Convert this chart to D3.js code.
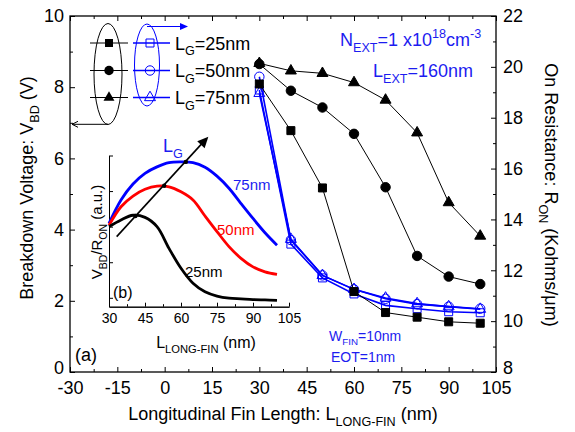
<!DOCTYPE html>
<meta charset="utf-8">
<style>
body { margin: 0; background: #fff; }
svg { display: block; font-family: Arial, "Liberation Sans", sans-serif; }
.tk text { font-size: 18px; fill: #000; }
.tk line { stroke: #000; stroke-width: 1; }
.itk text { font-size: 14px; fill: #000; }
.itk line { stroke: #000; stroke-width: 1; }
</style>
<script src="https://d3js.org/d3.v7.min.js"></script>
<body>
<script>
// main chart data
var lengths = [30, 40, 50, 60, 70, 80, 90, 100];
var vbd25 = [8.09, 6.78, 5.17, 2.26, 1.67, 1.54, 1.41, 1.37];
var vbd50 = [8.65, 7.90, 7.43, 6.69, 5.19, 3.26, 2.68, 2.47];
var vbd75 = [8.67, 8.46, 8.39, 8.13, 7.64, 6.72, 4.76, 3.82];
var ron25 = [19.09, 13.03, 11.70, 11.07, 10.62, 10.49, 10.37, 10.33];
var ron50 = [19.61, 13.19, 11.80, 11.25, 10.88, 10.67, 10.57, 10.49];
var ron75 = [18.96, 13.22, 11.80, 11.25, 10.91, 10.69, 10.57, 10.47];

// inset (b) curves, arbitrary units
var insetX = [30, 35, 40, 45, 50, 55, 60, 65, 70, 75, 80, 85, 90, 95, 100];
var inset25 = [2.00, 2.19, 2.32, 2.26, 2.00, 1.39, 0.83, 0.41, 0.17, 0.05, -0.01, -0.03, -0.05, -0.06, -0.07];
var inset50 = [2.04, 2.56, 2.86, 3.05, 3.14, 3.12, 2.98, 2.75, 2.30, 1.86, 1.44, 1.11, 0.87, 0.73, 0.66];
var inset75 = [2.09, 2.75, 3.20, 3.50, 3.68, 3.80, 3.82, 3.80, 3.67, 3.42, 3.08, 2.65, 2.23, 1.83, 1.48];
var insetPeaks = [[41, 2.30], [53, 3.15], [62, 3.82]];

var xTicks = [-30, -15, 0, 15, 30, 45, 60, 75, 90, 105];
var leftTicks = [0, 2, 4, 6, 8, 10];
var rightTicks = [8, 10, 12, 14, 16, 18, 20, 22];
var insetXTicks = [30, 45, 60, 75, 90, 105];
var gateNames = ["25nm", "50nm", "75nm"];

var W = 575, H = 432;
var BLUE = "#0000ff", TBLUE = "#1c1cf0", RED = "#ff0000";

var svg = d3.select("body").append("svg").attr("width", W).attr("height", H);

var x = d3.scaleLinear().domain([-30, 105]).range([70, 496]);
var yL = d3.scaleLinear().domain([0, 10]).range([372, 16]);
var yR = d3.scaleLinear().domain([8, 22]).range([372, 16]);

// text with sub/superscripts
function rich(g, parts, size) {
  var cur = 0;
  parts.forEach(function(p) {
    var s = p.sub ? size * 0.32 : p.sup ? -size * 0.42 : 0;
    var ts = g.append("tspan").text(p.t).attr("dy", s - cur);
    if (p.sub || p.sup) ts.attr("font-size", size * 0.7);
    cur = s;
  });
  return g;
}

function minors(ticks, step) {
  var out = [];
  for (var i = 0; i < ticks.length - 1; i++) out.push(ticks[i] + step);
  return out;
}

// ---- axes ----
var fmt = function(d) { return String(d); };
svg.append("g").attr("class", "tk").attr("transform", "translate(0,372)")
  .call(d3.axisBottom(x).tickValues(xTicks).tickFormat(fmt).tickSizeInner(-5).tickSizeOuter(0).tickPadding(9));
svg.append("g").attr("class", "tk").attr("transform", "translate(0,372)")
  .call(d3.axisBottom(x).tickValues(minors(xTicks, 7.5)).tickFormat("").tickSizeInner(-3).tickSizeOuter(0));
svg.append("g").attr("class", "tk").attr("transform", "translate(0,16)")
  .call(d3.axisTop(x).tickValues(xTicks).tickFormat("").tickSizeInner(-5).tickSizeOuter(0));
svg.append("g").attr("class", "tk").attr("transform", "translate(0,16)")
  .call(d3.axisTop(x).tickValues(minors(xTicks, 7.5)).tickFormat("").tickSizeInner(-3).tickSizeOuter(0));
var gl = svg.append("g").attr("class", "tk").attr("transform", "translate(70,0)")
  .call(d3.axisLeft(yL).tickValues(leftTicks).tickFormat(fmt).tickSizeInner(-5).tickSizeOuter(0).tickPadding(6));
svg.append("g").attr("class", "tk").attr("transform", "translate(70,0)")
  .call(d3.axisLeft(yL).tickValues(minors(leftTicks, 1)).tickFormat("").tickSizeInner(-3).tickSizeOuter(0));
var gr = svg.append("g").attr("class", "tk").attr("transform", "translate(496,0)")
  .call(d3.axisRight(yR).tickValues(rightTicks).tickFormat(fmt).tickSizeInner(-5).tickSizeOuter(0).tickPadding(7));
svg.append("g").attr("class", "tk").attr("transform", "translate(496,0)")
  .call(d3.axisRight(yR).tickValues(minors(rightTicks, 1)).tickFormat("").tickSizeInner(-3).tickSizeOuter(0));
svg.selectAll(".tk .domain").remove();
// lift the corner labels so they clear the x tick labels
gl.selectAll(".tick text").filter(function(d) { return d === 0; }).attr("y", -4);
gr.selectAll(".tick text").filter(function(d) { return d === 8; }).attr("y", -4);

svg.append("rect").attr("x", 70).attr("y", 16).attr("width", 426).attr("height", 356)
  .attr("fill", "none").attr("stroke", "#000").attr("stroke-width", 1.3);

// axis titles
rich(svg.append("text").attr("transform", "translate(33,188) rotate(-90)")
  .attr("text-anchor", "middle").attr("font-size", 18),
  [{t: "Breakdown Voltage: V"}, {t: "BD", sub: 1}, {t: " (V)"}], 18);
rich(svg.append("text").attr("transform", "translate(545,195) rotate(90)")
  .attr("text-anchor", "middle").attr("font-size", 18),
  [{t: "On Resistance: R"}, {t: "ON", sub: 1}, {t: " (Kohms/\u03bcm)"}], 18);
rich(svg.append("text").attr("x", 283).attr("y", 420)
  .attr("text-anchor", "middle").attr("font-size", 18),
  [{t: "Longitudinal Fin Length: L"}, {t: "LONG-FIN", sub: 1}, {t: " (nm)"}], 18);

// ---- main series ----
var sq = d3.symbol().type(d3.symbolSquare).size(64);
var ci = d3.symbol().type(d3.symbolCircle).size(70);
var tr = d3.symbol().type(d3.symbolTriangle).size(52);
var shapes = [sq, ci, tr];

function series(vals, yScale, color, width, shape, filled) {
  var pts = lengths.map(function(l, i) { return [x(l), yScale(vals[i])]; });
  svg.append("path").attr("d", d3.line()(pts))
    .attr("fill", "none").attr("stroke", color).attr("stroke-width", width);
  svg.selectAll(null).data(pts).enter().append("path")
    .attr("transform", function(d) { return "translate(" + d[0] + "," + d[1] + ")"; })
    .attr("d", shape())
    .attr("fill", filled ? color : "none")
    .attr("stroke", color).attr("stroke-width", 1);
}
series(ron25, yR, BLUE, 1.6, sq, false);
series(ron50, yR, BLUE, 1.6, ci, false);
series(ron75, yR, BLUE, 1.6, tr, false);
series(vbd25, yL, "#000", 1, sq, true);
series(vbd50, yL, "#000", 1, ci, true);
series(vbd75, yL, "#000", 1, tr, true);

// ---- legend ----
var rowsY = [43, 70.5, 97.5];
rowsY.forEach(function(ry, i) {
  svg.append("line").attr("x1", 90).attr("x2", 128).attr("y1", ry).attr("y2", ry).attr("stroke", "#000");
  svg.append("path").attr("transform", "translate(109," + ry + ")").attr("d", shapes[i]()).attr("fill", "#000");
  svg.append("line").attr("x1", 133).attr("x2", 170).attr("y1", ry).attr("y2", ry).attr("stroke", BLUE).attr("stroke-width", 1.3);
  svg.append("path").attr("transform", "translate(150," + ry + ")").attr("d", shapes[i]())
    .attr("fill", "none").attr("stroke", BLUE);
  rich(svg.append("text").attr("x", 175).attr("y", ry + 6.5).attr("font-size", 18),
    [{t: "L"}, {t: "G", sub: 1}, {t: "=" + gateNames[i]}], 18);
});
svg.append("ellipse").attr("cx", 108).attr("cy", 74).attr("rx", 14).attr("ry", 50.5)
  .attr("fill", "none").attr("stroke", "#000");
svg.append("path").attr("d", "M108,124.3H72 M78,121.3L72,124.3L78,127.3")
  .attr("fill", "none").attr("stroke", "#000");
svg.append("ellipse").attr("cx", 147).attr("cy", 65).attr("rx", 12.5).attr("ry", 41)
  .attr("fill", "none").attr("stroke", BLUE);
svg.append("path").attr("d", "M147,26.5H182").attr("stroke", BLUE).attr("stroke-width", 1.2);
svg.append("path").attr("d", "M188,26.5L180,23L180,30Z").attr("fill", BLUE);

// ---- annotations ----
rich(svg.append("text").attr("x", 340).attr("y", 46).attr("font-size", 18).attr("fill", TBLUE),
  [{t: "N"}, {t: "EXT", sub: 1}, {t: "=1 x10"}, {t: "18", sup: 1}, {t: "cm"}, {t: "-3", sup: 1}], 18);
rich(svg.append("text").attr("x", 373).attr("y", 77).attr("font-size", 18).attr("fill", TBLUE),
  [{t: "L"}, {t: "EXT", sub: 1}, {t: "=160nm"}], 18);
rich(svg.append("text").attr("x", 329).attr("y", 341).attr("font-size", 14).attr("fill", TBLUE),
  [{t: "W"}, {t: "FIN", sub: 1}, {t: "=10nm"}], 14);
svg.append("text").attr("x", 331).attr("y", 362).attr("font-size", 14).attr("fill", TBLUE).text("EOT=1nm");
svg.append("text").attr("x", 75).attr("y", 361).attr("font-size", 18).text("(a)");

// ---- inset (b) ----
var ix = d3.scaleLinear().domain([30, 105]).range([109, 289]);
var iy = d3.scaleLinear().domain([-0.25, 4]).range([306.7, 155.5]);
var ins = svg.append("g");
ins.append("g").attr("class", "itk").attr("transform", "translate(0,306.7)")
  .call(d3.axisBottom(ix).tickValues(insetXTicks).tickFormat(fmt).tickSizeInner(-4).tickSizeOuter(0).tickPadding(6));
ins.append("g").attr("class", "itk").attr("transform", "translate(0,306.7)")
  .call(d3.axisBottom(ix).tickValues(minors(insetXTicks, 7.5)).tickFormat("").tickSizeInner(-2.5).tickSizeOuter(0));
ins.append("g").attr("class", "itk").attr("transform", "translate(109,0)")
  .call(d3.axisLeft(iy).tickValues([0, 1, 2, 3, 4]).tickFormat("").tickSizeInner(-4).tickSizeOuter(0));
ins.selectAll(".domain").attr("stroke", "#000").attr("stroke-width", 1);

var curve = d3.line().x(function(d) { return ix(d[0]); }).y(function(d) { return iy(d[1]); })
  .curve(d3.curveCatmullRom);
[[inset75, BLUE], [inset50, RED], [inset25, "#000"]].forEach(function(c) {
  ins.append("path").attr("d", curve(insetX.map(function(v, i) { return [v, c[0][i]]; })))
    .attr("fill", "none").attr("stroke", c[1]).attr("stroke-width", 2.8);
});
// L_G arrow
ins.append("path").attr("d", d3.line()([[ix(33.2), iy(1.72)], [ix(68.5), iy(4.32)]]))
  .attr("stroke", "#000").attr("stroke-width", 1.6);
var ax = ix(71.4), ay = iy(4.53);
var ang = Math.atan2(iy(4.53) - iy(1.72), ix(71.4) - ix(33.2));
var hl = 11, hw = 5;
var bx = ax - hl * Math.cos(ang), by = ay - hl * Math.sin(ang);
ins.append("path").attr("d", "M" + ax + "," + ay +
  "L" + (bx - hw * Math.sin(ang)) + "," + (by + hw * Math.cos(ang)) +
  "L" + (bx + hw * Math.sin(ang)) + "," + (by - hw * Math.cos(ang)) + "Z").attr("fill", "#000");
ins.selectAll(null).data(insetPeaks).enter().append("circle")
  .attr("cx", function(d) { return ix(d[0]); }).attr("cy", function(d) { return iy(d[1]); })
  .attr("r", 2.2).attr("fill", "#000");

rich(ins.append("text").attr("x", 163).attr("y", 152).attr("font-size", 18).attr("fill", TBLUE),
  [{t: "L"}, {t: "G", sub: 1}], 18);
ins.append("text").attr("x", 233).attr("y", 190).attr("font-size", 15).attr("fill", TBLUE).text(gateNames[2]);
ins.append("text").attr("x", 217).attr("y", 235).attr("font-size", 15).attr("fill", RED).text(gateNames[1]);
ins.append("text").attr("x", 185).attr("y", 277).attr("font-size", 15).attr("fill", "#000").text(gateNames[0]);
ins.append("text").attr("x", 113).attr("y", 298).attr("font-size", 16).text("(b)");
rich(ins.append("text").attr("transform", "translate(102,232) rotate(-90)")
  .attr("text-anchor", "middle").attr("font-size", 15),
  [{t: "V"}, {t: "BD", sub: 1}, {t: "/R"}, {t: "ON", sub: 1}, {t: " (a.u.)"}], 15);
rich(ins.append("text").attr("x", 206).attr("y", 348).attr("text-anchor", "middle").attr("font-size", 16),
  [{t: "L"}, {t: "LONG-FIN", sub: 1}, {t: " (nm)"}], 16);
</script>
</body>
